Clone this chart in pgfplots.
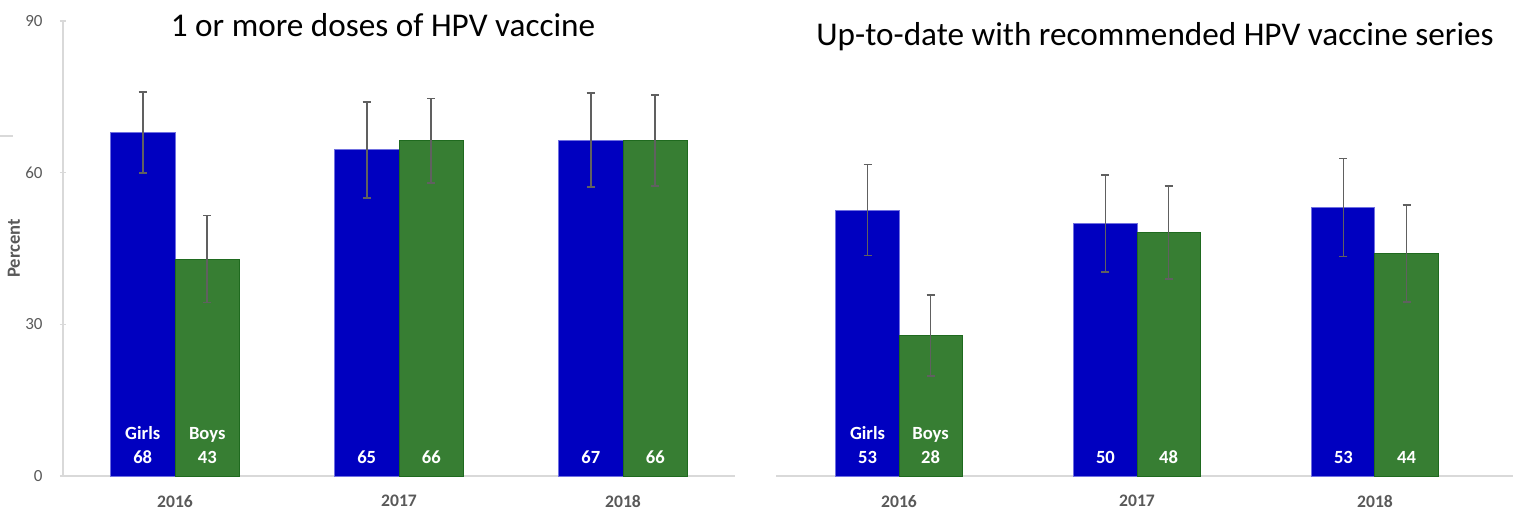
\documentclass[border=0pt]{standalone}
\usepackage{fontspec}
\setmainfont{Carlito}
\usepackage{pgfplots}
\pgfplotsset{compat=1.18}
\definecolor{barblue}{HTML}{0000C0}
\definecolor{bluedge}{HTML}{7070E0}
\definecolor{bargreen}{HTML}{377E33}
\definecolor{greenedge}{HTML}{1F6A1F}
\definecolor{errgray}{HTML}{606060}
\definecolor{axgray}{HTML}{D9D9D9}
\definecolor{txtgray}{HTML}{595959}
\pgfplotsset{
  hpvbase/.style={scale only axis, height=227.5pt, ymin=0, ymax=90, anchor=south west,
    axis x line=bottom, tick align=inside,
    xtick={0,1,2}, xticklabels={2016,2017,2018}, xtick style={draw=none},
    xticklabel style={font=\bfseries\fontsize{8.8}{10}\selectfont, text=txtgray, yshift=-6pt},
    clip=false},
  errb/.style={error bars/y dir=both, error bars/y explicit,
    error bars/error bar style={errgray, line width=0.85pt},
    error bars/error mark options={rotate=90, mark size=2pt, errgray, line width=0.85pt}},
  girlbar/.style={ybar, bar width=#1, bar shift=0pt, fill=barblue, draw=bluedge, line width=0.5pt, errb},
  boybar/.style={ybar, bar width=#1, bar shift=0pt, fill=bargreen, draw=greenedge, line width=0.5pt, errb},
  lbl/.style={draw=none, mark=none, point meta=explicit symbolic, nodes near coords,
    nodes near coords style={font=\bfseries\fontsize{9.3}{11}\selectfont, text=white,
      anchor=base, inner sep=0pt, yshift=#1}},
}
\begin{document}
\begin{tikzpicture}
\useasboundingbox (0,0) rectangle (757.5pt,255pt);
\draw[axgray, line width=0.6pt] (0,187pt) -- (6.5pt,187pt);
% Left panel
\begin{axis}[hpvbase, at={(31.5pt,17pt)}, width=336pt, xmin=-0.5, xmax=2.5,
  axis y line=left, ytick={0,30,60,90}, major tick length=3pt,
  ytick style={axgray, line width=0.75pt},
  yticklabel style={font=\fontsize{8.5}{10}\selectfont, text=txtgray, anchor=east, inner sep=0pt, xshift=-8.5pt},
  /pgf/number format/assume math mode=true,
  ylabel={Percent},
  ylabel style={font=\bfseries\fontsize{9.3}{10}\selectfont, text=txtgray, at={(axis description cs:0,0.5)}, anchor=center, yshift=24.5pt},
  axis line style={axgray, line width=0.75pt},
  x axis line style={-}, y axis line style={-}]
\addplot[girlbar=0.288] coordinates {(-0.144,68.0) +- (0,8.0) (0.856,64.5) +- (0,9.5) (1.856,66.4) +- (0,9.3)};
\addplot[boybar=0.288] coordinates {(0.144,42.9) +- (0,8.6) (1.144,66.3) +- (0,8.4) (2.144,66.3) +- (0,9.0)};
\addplot[lbl=6.5pt] coordinates {(-0.144,0) [68] (0.856,0) [65] (1.856,0) [67] (0.144,0) [43] (1.144,0) [66] (2.144,0) [66]};
\addplot[lbl=18.5pt] coordinates {(-0.144,0) [Girls] (0.144,0) [Boys]};
\end{axis}
% Right panel
\begin{axis}[hpvbase, at={(388pt,17pt)}, width=368.5pt, xmin=-0.517, xmax=2.58,
  axis y line=none,
  axis line style={axgray, line width=0.75pt},
  x axis line style={-}]
\addplot[girlbar=0.265] coordinates {(-0.1325,52.6) +- (0,9.0) (0.8675,50.0) +- (0,9.6) (1.8675,53.1) +- (0,9.7)};
\addplot[boybar=0.265] coordinates {(0.1325,27.8) +- (0,8.0) (1.1325,48.2) +- (0,9.2) (2.1325,44.0) +- (0,9.6)};
\addplot[lbl=6.5pt] coordinates {(-0.1325,0) [53] (0.8675,0) [50] (1.8675,0) [53] (0.1325,0) [28] (1.1325,0) [48] (2.1325,0) [44]};
\addplot[lbl=18.5pt] coordinates {(-0.1325,0) [Girls] (0.1325,0) [Boys]};
\end{axis}
\node[font=\fontsize{16.6}{20}\selectfont, anchor=center] at (191.5pt,242.5pt) {1 or more doses of HPV vaccine};
\node[font=\fontsize{16.6}{20}\selectfont, anchor=center] at (577.5pt,236.5pt) {Up-to-date with recommended HPV vaccine series};
\end{tikzpicture}
\end{document}
